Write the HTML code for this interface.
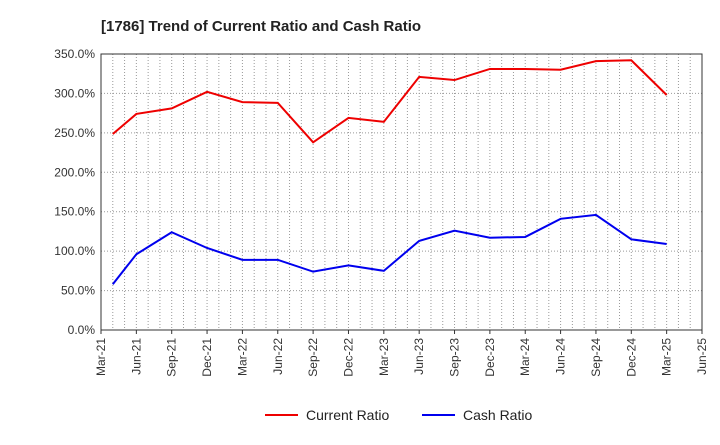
<!DOCTYPE html>
<html><head><meta charset="utf-8"><style>
body{margin:0;background:#fff;font-family:"Liberation Sans",sans-serif}
</style></head><body>
<svg id="c" width="720" height="440" xmlns="http://www.w3.org/2000/svg">
<text x="101" y="31" font-size="15" font-weight="bold" fill="#222">[1786]  Trend of Current Ratio and Cash Ratio</text>
<g id="grid"></g><g id="axes"></g><g id="series"></g>
<g>
<line x1="265" y1="415" x2="298" y2="415" stroke="#ee0000" stroke-width="2"/>
<text x="306" y="420" font-size="14" fill="#222">Current Ratio</text>
<line x1="422" y1="415" x2="455" y2="415" stroke="#0000ee" stroke-width="2"/>
<text x="463" y="420" font-size="14" fill="#222">Cash Ratio</text>
</g>
</svg>
<script>
const tickLabels=["Mar-21","Jun-21","Sep-21","Dec-21","Mar-22","Jun-22","Sep-22","Dec-22","Mar-23","Jun-23","Sep-23","Dec-23","Mar-24","Jun-24","Sep-24","Dec-24","Mar-25","Jun-25"];
const yTicks=[0,50,100,150,200,250,300,350];
const monthOffsets=[1,3,6,9,12,15,18,21,24,27,30,33,36,39,42,45,48];
const currentRatio=[248.5,274,281,302,289,288,238,269,264,321,317,331,331,330,341,342,298];
const cashRatio=[58,96,124,104,89,89,74,82,75,113,126,117,118,141,146,115,109];
const NS="http://www.w3.org/2000/svg";
const L=101,R=702,T=54,B=330,months=51;
const x=m=>L+(R-L)*m/months, y=v=>B-(B-T)*v/350;
function mk(t,a,p){const e=document.createElementNS(NS,t);for(const k in a)e.setAttribute(k,a[k]);p.appendChild(e);return e;}
const g=document.getElementById('grid'),ax=document.getElementById('axes'),s=document.getElementById('series');
for(let m=0;m<=months;m++){const l=mk('line',{x1:x(m),x2:x(m),y1:T,y2:B,stroke:'#999','stroke-dasharray':'1,2','stroke-width':1},g);

}
yTicks.forEach(v=>{const l=mk('line',{x1:L,x2:R,y1:y(v),y2:y(v),stroke:'#999','stroke-dasharray':'1,2'},g);


const t=mk('text',{x:L-6,y:y(v)+4,'font-size':12,'text-anchor':'end',fill:'#333'},ax);t.textContent=v.toFixed(1)+'%';

});
mk('rect',{x:L,y:T,width:R-L,height:B-T,fill:'none',stroke:'#333'},ax);
tickLabels.forEach((lb,i)=>{const xx=x(i*3);mk('line',{x1:xx,x2:xx,y1:B,y2:B+4,stroke:'#333'},ax);
const t=mk('text',{x:0,y:0,'font-size':12,'text-anchor':'end',fill:'#333',transform:`translate(${xx+4},${B+8}) rotate(-90)`},ax);t.textContent=lb;

});
function line(d,c,n){const p=mk('polyline',{points:d.map((v,i)=>x(monthOffsets[i])+','+y(v)).join(' '),fill:'none',stroke:c,'stroke-width':2},s);

}
line(currentRatio,'#ee0000','current-ratio-line');
line(cashRatio,'#0000ee','cash-ratio-line');
</script>
</body></html>
